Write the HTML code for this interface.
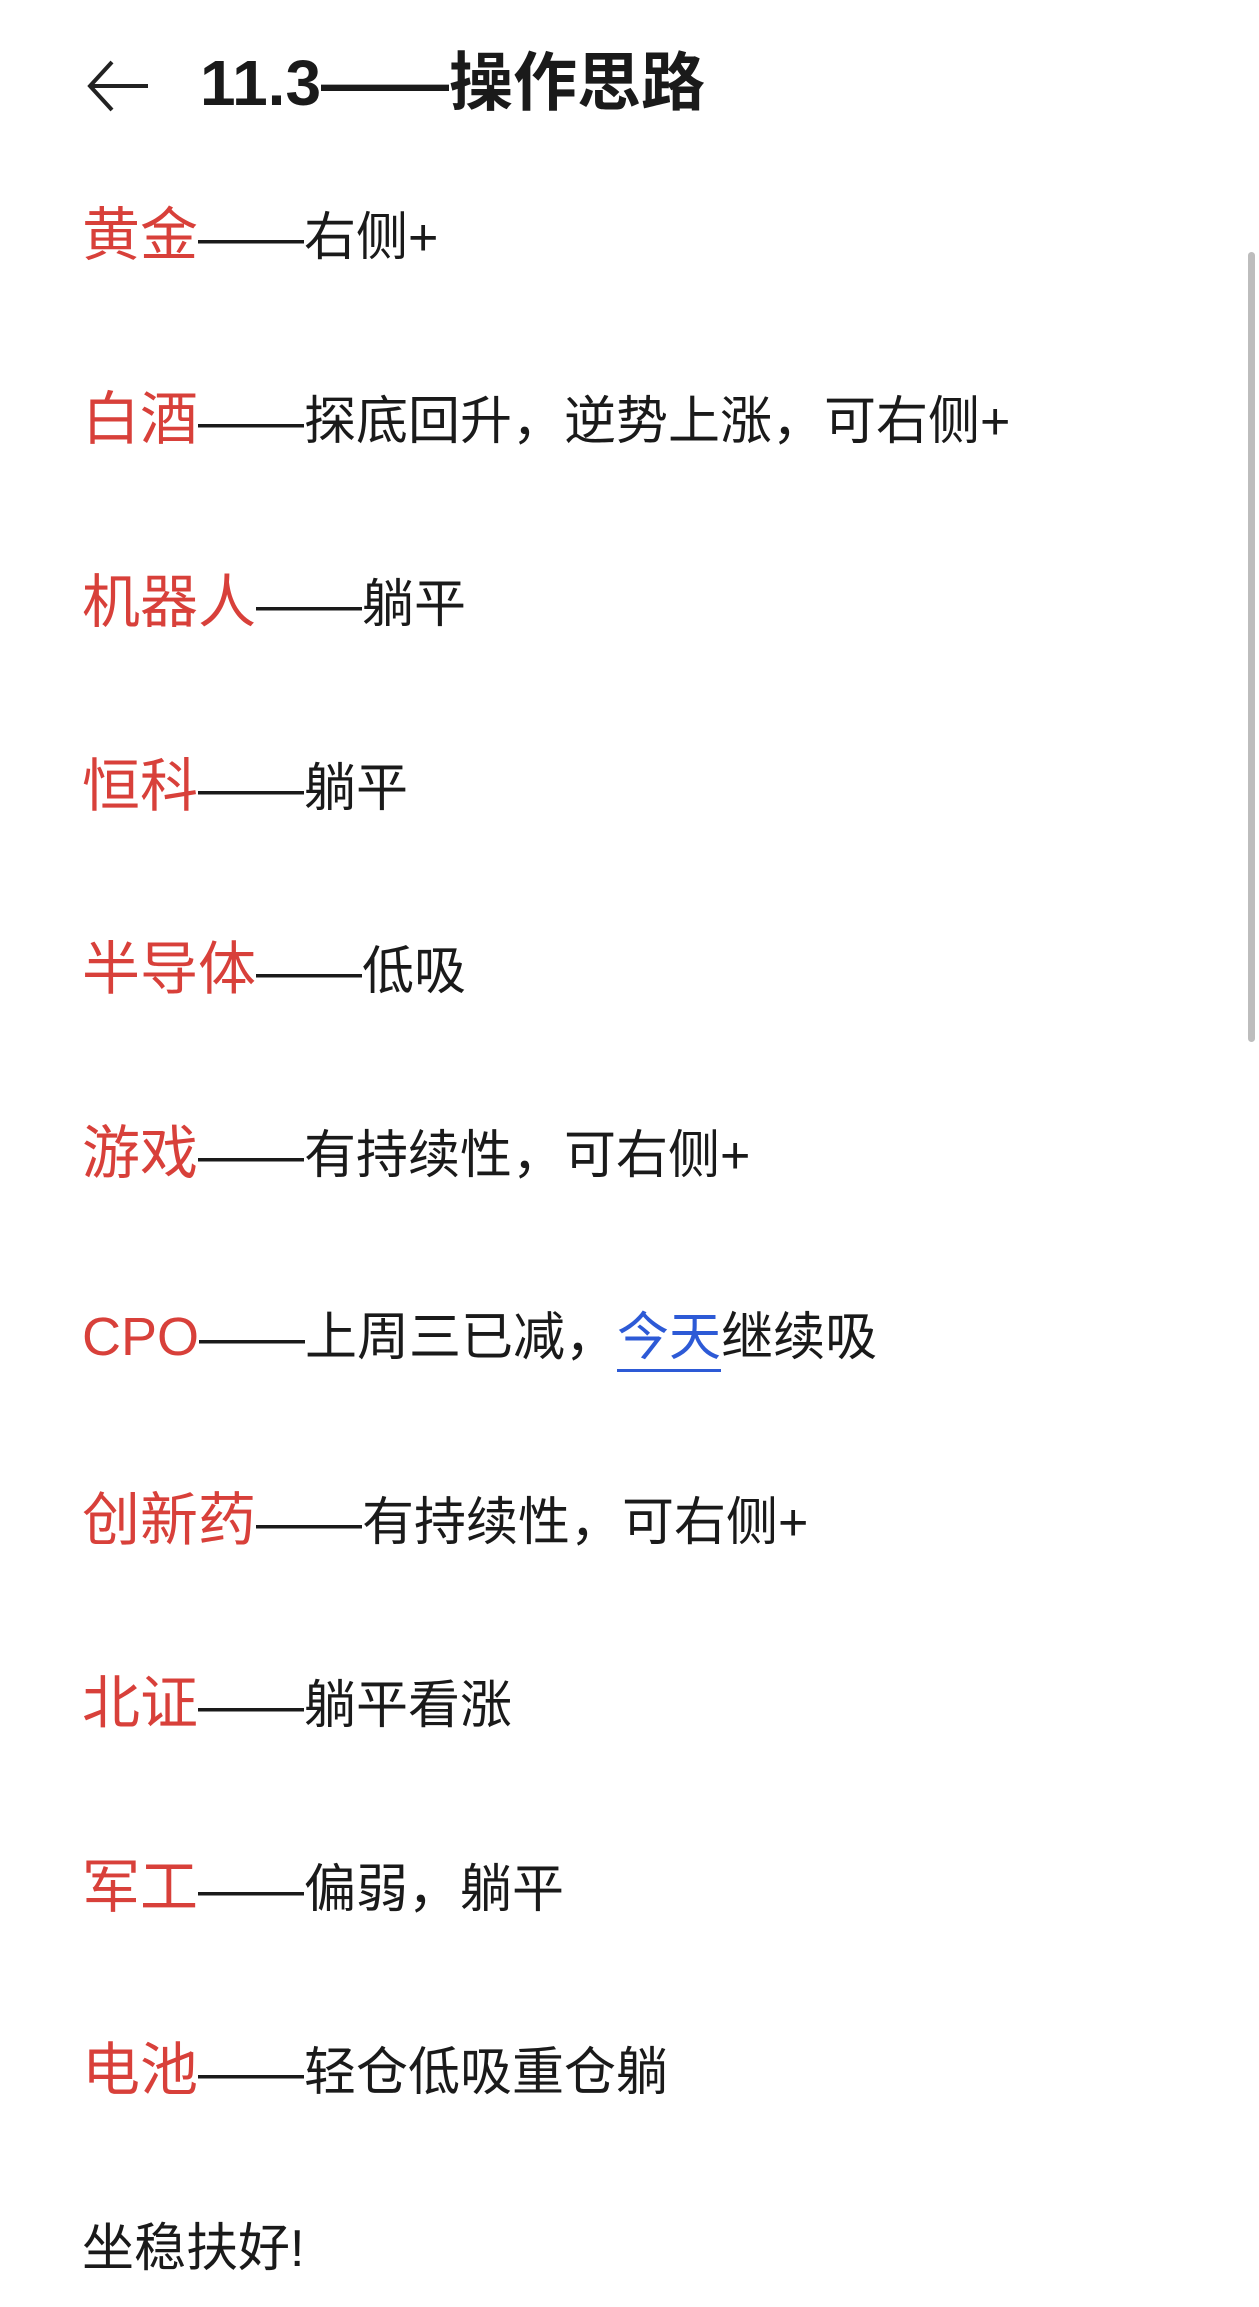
<!DOCTYPE html>
<html><head><meta charset="utf-8"><style>
html,body{margin:0;padding:0;background:#fff;}
body{width:1259px;height:2307px;position:relative;overflow:hidden;font-family:"Liberation Sans","Noto Sans CJK SC",sans-serif;color:#1a1a1a;}
.row{position:absolute;left:82px;height:60px;line-height:60px;white-space:nowrap;font-size:52px;}
.r{color:#d8403a;font-size:58px;}
.d{font-size:53px;}
.u{color:#2d5ad6;border-bottom:3px solid #2d5ad6;padding-bottom:2px;}
.title{position:absolute;left:200px;top:46px;font-size:64px;line-height:74px;font-weight:bold;color:#1a1a1a;white-space:nowrap;}
.sb{position:absolute;left:1248px;top:252px;width:7px;height:790px;background:#bdbdbd;border-radius:4px;}
</style></head><body>
<svg style="position:absolute;left:84px;top:58px" width="66" height="56" viewBox="0 0 66 56"><path d="M28 4 L6 28 L28 52 M6 28 L64 28" fill="none" stroke="#222" stroke-width="4"/></svg>
<div class="title">11.3——操作思路</div>
<div class="row" style="top:206px"><span class="r">黄金</span><span class="d">——</span>右侧+</div>
<div class="row" style="top:389.5px"><span class="r">白酒</span><span class="d">——</span>探底回升，逆势上涨，可右侧+</div>
<div class="row" style="top:573px"><span class="r">机器人</span><span class="d">——</span>躺平</div>
<div class="row" style="top:756.5px"><span class="r">恒科</span><span class="d">——</span>躺平</div>
<div class="row" style="top:940px"><span class="r">半导体</span><span class="d">——</span>低吸</div>
<div class="row" style="top:1123.5px"><span class="r">游戏</span><span class="d">——</span>有持续性，可右侧+</div>
<div class="row" style="top:1307px"><span class="r" style="font-size:54px">CPO</span><span class="d">——</span>上周三已减，<span class="u">今天</span>继续吸</div>
<div class="row" style="top:1490.5px"><span class="r">创新药</span><span class="d">——</span>有持续性，可右侧+</div>
<div class="row" style="top:1674px"><span class="r">北证</span><span class="d">——</span>躺平看涨</div>
<div class="row" style="top:1857.5px"><span class="r">军工</span><span class="d">——</span>偏弱，躺平</div>
<div class="row" style="top:2041px"><span class="r">电池</span><span class="d">——</span>轻仓低吸重仓躺</div>
<div class="row" style="top:2219px">坐稳扶好!</div>
<div class="sb"></div>
</body></html>
